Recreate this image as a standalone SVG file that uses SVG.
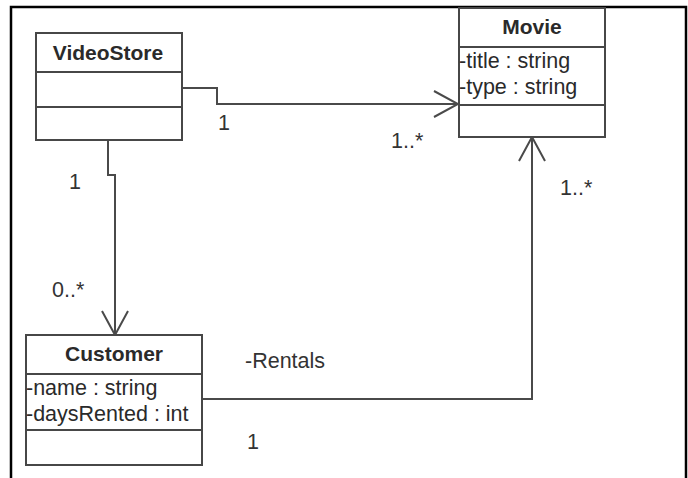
<svg xmlns="http://www.w3.org/2000/svg" width="688" height="478" viewBox="0 0 688 478">
  <style>
    .box { fill: #ffffff; stroke: #474747; stroke-width: 2; }
    .sep { stroke: #474747; stroke-width: 2; }
    .title { font-family: "Liberation Sans", Arial, sans-serif; font-size: 21px; font-weight: bold; fill: #2a2a2a; text-anchor: middle; }
    .attr { font-family: "Liberation Sans", Arial, sans-serif; font-size: 21.5px; fill: #2a2a2a; }
    .label { font-family: "Liberation Sans", Arial, sans-serif; font-size: 21.5px; fill: #333333; }
    .conn { fill: none; stroke: #4a4a4a; stroke-width: 2; }
  </style>
  <defs>
    <marker id="open-arrow" viewBox="-26 -15 28 30" refX="0" refY="0" markerWidth="28" markerHeight="30" markerUnits="userSpaceOnUse" orient="auto">
      <path d="M-24,-13 L0,0 L-24,13" fill="none" stroke="#4a4a4a" stroke-width="2"/>
    </marker>
  </defs>

  <rect width="688" height="478" fill="#ffffff"/>

  <!-- outer frame (no bottom edge) -->
  <path d="M11,478 V7 H686 V478" fill="none" stroke="#000000" stroke-width="2.5"/>

  <!-- associations -->
  <g id="connectors">
    <path class="conn" d="M182,88 H217 V104 H458" marker-end="url(#open-arrow)"/>
    <path class="conn" d="M108,140 V175 H115 V335" marker-end="url(#open-arrow)"/>
    <path class="conn" d="M202,399 H532 V137" marker-end="url(#open-arrow)"/>
    <text class="label" x="218" y="130">1</text>
    <text class="label" x="391" y="148">1..*</text>
    <text class="label" x="69" y="189">1</text>
    <text class="label" x="52" y="297">0..*</text>
    <text class="label" x="560" y="195">1..*</text>
    <text class="label" x="245" y="368">-Rentals</text>
    <text class="label" x="247" y="449">1</text>
  </g>

  <g id="VideoStore">
    <rect class="box" x="36" y="33" width="146" height="107"/>
    <line class="sep" x1="36" y1="72" x2="182" y2="72"/>
    <line class="sep" x1="36" y1="107" x2="182" y2="107"/>
    <text class="title" x="108" y="60">VideoStore</text>
  </g>

  <g id="Movie">
    <rect class="box" x="459" y="8" width="146" height="129"/>
    <line class="sep" x1="459" y1="47" x2="605" y2="47"/>
    <line class="sep" x1="459" y1="105" x2="605" y2="105"/>
    <text class="title" x="532" y="34">Movie</text>
    <text class="attr" x="459" y="68">-title : string</text>
    <text class="attr" x="459" y="94">-type : string</text>
  </g>

  <g id="Customer">
    <rect class="box" x="26" y="335" width="176" height="130"/>
    <line class="sep" x1="26" y1="374" x2="202" y2="374"/>
    <line class="sep" x1="26" y1="430" x2="202" y2="430"/>
    <text class="title" x="114" y="361">Customer</text>
    <text class="attr" x="26" y="395">-name : string</text>
    <text class="attr" x="26" y="421">-daysRented : int</text>
  </g>
</svg>
